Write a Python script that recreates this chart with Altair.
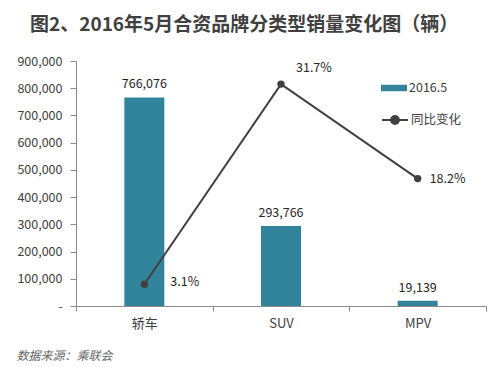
import altair as alt
import pandas as pd

categories = ["轿车", "SUV", "MPV"]
sales_2016_5 = [766076, 293766, 19139]
yoy_change = [0.031, 0.317, 0.182]
sales_labels = ["766,076", "293,766", "19,139"]
yoy_labels = ["3.1%", "31.7%", "18.2%"]

df = pd.DataFrame({
    "cat": categories,
    "sales": sales_2016_5,
    "yoy": yoy_change,
    "slabel": sales_labels,
    "ylabel": yoy_labels,
    "s1": ["2016.5"] * 3,
    "s2": ["同比变化"] * 3,
})

FONT = "Noto Sans CJK SC"
BAR = "#31849B"
LINE = "#404040"
GRAY = "#8c8c8c"

x_enc = alt.X(
    "cat:N", sort=categories, title="数据来源：乘联会",
    scale=alt.Scale(paddingInner=0, paddingOuter=0),
    axis=alt.Axis(labelAngle=0, labelFontSize=13, labelColor="#404040", labelFont=FONT,
                  tickBand="extent", tickSize=5, tickColor=GRAY, domainColor=GRAY,
                  labelPadding=6,
                  titleX=-60, titleY=49, titleAlign="left", titleBaseline="middle",
                  titleFont=FONT, titleFontSize=12, titleFontStyle="italic",
                  titleFontWeight="normal", titleColor="#666666"),
)

ysc = alt.Scale(domain=[0, 900000], nice=False)
y2sc = alt.Scale(domain=[0, 0.35], nice=False)

base = alt.Chart(df)

bars = base.mark_bar(size=40, color=BAR).encode(
    x=x_enc,
    y=alt.Y("sales:Q", scale=ysc, title=None,
            axis=alt.Axis(values=list(range(0, 900001, 100000)), grid=False,
                          labelExpr="datum.value == 0 ? '-' : format(datum.value, ',')",
                          labelFontSize=12.5, labelColor="#404040", labelFont=FONT,
                          tickSize=6, tickColor=GRAY, domainColor=GRAY, labelPadding=8)),
    fill=alt.Fill("s1:N", title=None,
                  scale=alt.Scale(domain=["2016.5"], range=[BAR]),
                  legend=alt.Legend(orient="none", legendX=305, legendY=14, padding=0,
                                    symbolType="M-1,-0.25H1V0.25H-1Z", symbolSize=676,
                                    labelFontSize=12.5, labelColor="#404040", labelFont=FONT,
                                    labelOffset=2, symbolStrokeWidth=0)),
)

bar_text = base.mark_text(baseline="bottom", dy=-6, fontSize=12.5, font=FONT, color="#262626").encode(
    x=x_enc,
    y=alt.Y("sales:Q", scale=ysc, axis=None),
    text="slabel:N",
)

line = base.mark_line(color=LINE, strokeWidth=2).encode(
    x=x_enc,
    y=alt.Y("yoy:Q", scale=y2sc, axis=None),
)

points = base.mark_circle(size=55, opacity=1).encode(
    x=x_enc,
    y=alt.Y("yoy:Q", scale=y2sc, axis=None),
    color=alt.Color("s2:N", title=None,
                    scale=alt.Scale(domain=["同比变化"], range=[LINE]),
                    legend=alt.Legend(orient="none", legendX=305, legendY=45, padding=0,
                                      symbolType="M-1,0H1M0.3,0A0.3,0.3,0,1,1,-0.3,0A0.3,0.3,0,1,1,0.3,0Z",
                                      symbolSize=676, symbolStrokeColor=LINE, symbolStrokeWidth=2,
                                      labelFontSize=12.5, labelColor="#404040", labelFont=FONT,
                                      labelOffset=2)),
)

def yoy_text(cat, dx, dy):
    return base.transform_filter(alt.datum.cat == cat).mark_text(
        align="left", baseline="middle", dx=dx, dy=dy, fontSize=12.5, font=FONT, color="#262626"
    ).encode(
        x=x_enc,
        y=alt.Y("yoy:Q", scale=y2sc, axis=None),
        text="ylabel:N",
    )

t1 = yoy_text("轿车", 26, -2)
t2 = yoy_text("SUV", 15, -16)
t3 = yoy_text("MPV", 12, 0)

chart = alt.layer(bars, bar_text, line, points, t1, t2, t3).resolve_scale(
    y="independent", color="independent", fill="independent"
).properties(
    width=410, height=245,
    title=alt.TitleParams("图2、2016年5月合资品牌分类型销量变化图（辆）", anchor="start",
                          frame="group", dx=-46, offset=20, fontSize=19, fontWeight="bold",
                          font=FONT, color="#404040"),
    autosize=alt.AutoSizeParams(type="none"),
    padding={"left": 68, "top": 53, "right": 6, "bottom": 60},
).configure_view(stroke=None)

chart.save("out.html", embed_options={"renderer": "svg", "actions": False})
